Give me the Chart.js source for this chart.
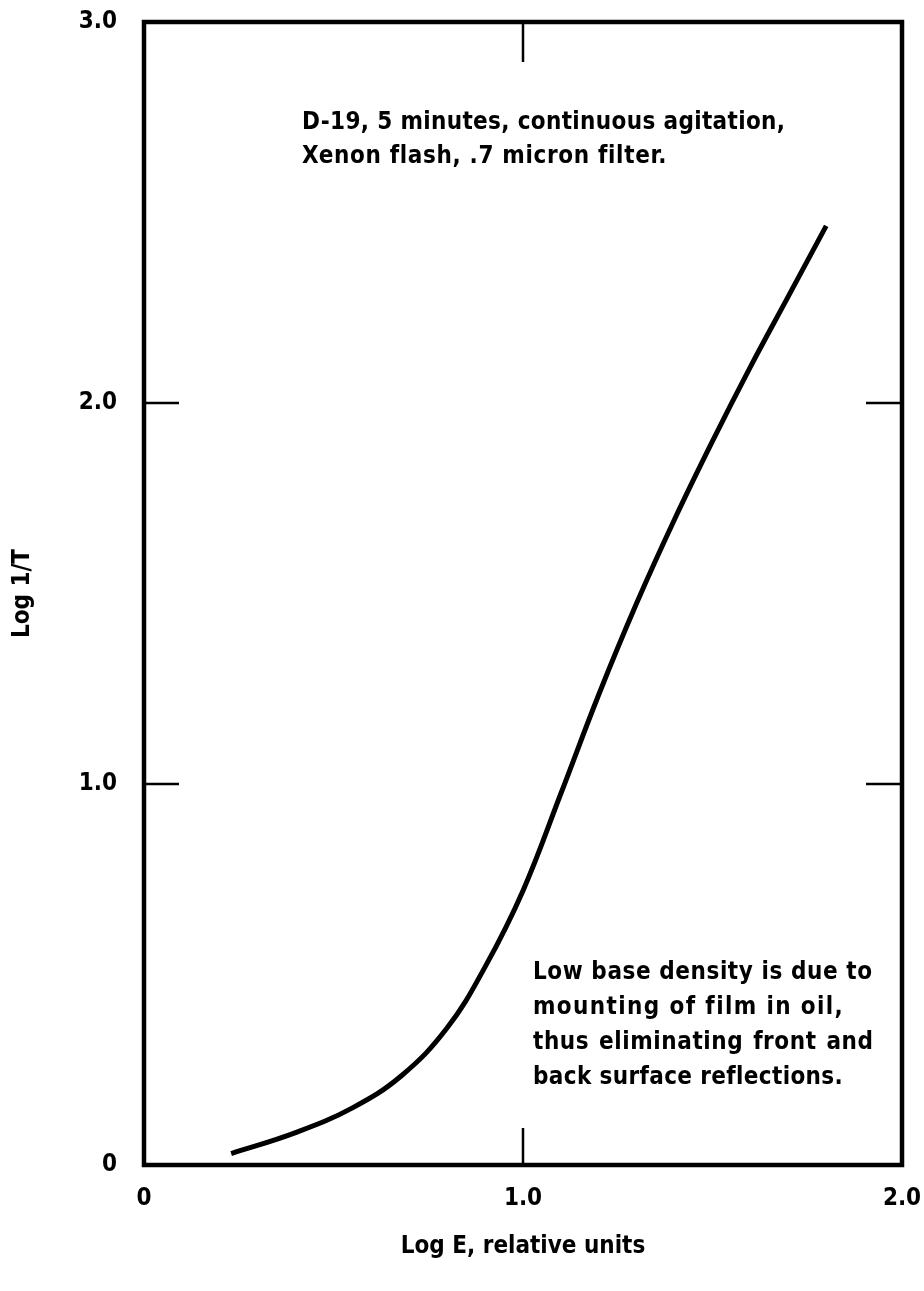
<!DOCTYPE html>
<html><head><meta charset="utf-8">
<script src="https://cdn.jsdelivr.net/npm/chart.js@4"></script>
<style>html,body{margin:0;padding:0;background:#fff;}#wrap{width:924px;height:1291px;position:relative;}</style>
</head><body><div id="wrap"><canvas id="c" width="924" height="1291"></canvas></div>
<script>
// ---- data ----
const logE     = [0.23, 0.40, 0.55, 0.68, 0.80, 0.90, 1.00, 1.10, 1.20, 1.30, 1.40, 1.50, 1.60, 1.70, 1.80];
const logInvT  = [0.03, 0.085, 0.15, 0.235, 0.36, 0.52, 0.72, 0.975, 1.235, 1.475, 1.695, 1.90, 2.095, 2.28, 2.465];
const xTickValues = [0, 1, 2];
const xTickLabels = ['0', '1.0', '2.0'];
const yTickValues = [0, 1, 2, 3];
const yTickLabels = ['0', '1.0', '2.0', '3.0'];
const xTitle = 'Log E, relative units';
const yTitle = 'Log 1/T';
const noteTop = ['D-19, 5 minutes, continuous agitation,', 'Xenon flash, .7 micron filter.'];
const noteBottom = ['Low base density is due to', 'mounting of film in oil,', 'thus eliminating front and', 'back surface reflections.'];

const FAM = "'DejaVu Sans Condensed', 'DejaVu Sans', sans-serif";

function drawNote(ctx, lines, x, y0, dy, widths, justify) {
  ctx.save();
  ctx.font = 'bold 24px ' + FAM;
  ctx.fillStyle = '#000';
  ctx.textBaseline = 'middle';
  ctx.textAlign = 'left';
  let baseLs = 0;
  lines.forEach((t, i) => {
    const y = y0 + i * dy;
    ctx.letterSpacing = '0px';
    const w0 = ctx.measureText(t).width;
    if (justify && justify.includes(i)) {
      ctx.letterSpacing = baseLs + 'px';
      const words = t.split(' ');
      const ww = words.map(w => ctx.measureText(w).width - baseLs);
      const sum = ww.reduce((a, b) => a + b, 0);
      const gap = (widths[i] - sum) / (words.length - 1);
      let cx = x;
      words.forEach((w, k) => { ctx.fillText(w, cx, y); cx += ww[k] + gap; });
    } else {
      const ls = (widths[i] - w0) / (t.length - 1);
      if (i === 0) baseLs = ls;
      ctx.letterSpacing = ls + 'px';
      ctx.fillText(t, x, y);
    }
  });
  ctx.restore();
}

const framePlugin = {
  id: 'frame',
  afterDatasetsDraw(chart) {
    const { ctx, chartArea: a, scales } = chart;
    ctx.save();
    ctx.strokeStyle = '#000';
    ctx.lineCap = 'butt';
    ctx.lineWidth = 2.5;
    xTickValues.forEach(v => {
      if (v === xTickValues[0] || v === xTickValues[xTickValues.length - 1]) return;
      const px = scales.x.getPixelForValue(v);
      ctx.beginPath();
      ctx.moveTo(px, a.bottom); ctx.lineTo(px, a.bottom - 37);
      ctx.moveTo(px, a.top); ctx.lineTo(px, a.top + 40);
      ctx.stroke();
    });
    yTickValues.forEach(v => {
      if (v === yTickValues[0] || v === yTickValues[yTickValues.length - 1]) return;
      const py = scales.y.getPixelForValue(v);
      ctx.beginPath();
      ctx.moveTo(a.left, py); ctx.lineTo(a.left + 35, py);
      ctx.moveTo(a.right, py); ctx.lineTo(a.right - 36, py);
      ctx.stroke();
    });
    ctx.lineWidth = 4.5;
    ctx.lineJoin = 'miter';
    ctx.strokeRect(a.left, a.top, a.right - a.left, a.bottom - a.top);
    ctx.restore();
    drawNote(ctx, noteTop, 302, 123, 34, [483, 363], null);
    drawNote(ctx, noteBottom, 533, 973, 35, [339, 309, 340, 309], [2]);
  }
};

new Chart(document.getElementById('c'), {
  type: 'scatter',
  data: {
    datasets: [{
      data: logE.map((x, i) => ({ x: x, y: logInvT[i] })),
      showLine: true,
      borderColor: '#000',
      borderWidth: 5,
      pointRadius: 0,
      fill: false,
      tension: 0.4,
      borderCapStyle: 'butt'
    }]
  },
  options: {
    responsive: false,
    animation: false,
    devicePixelRatio: 1,
    layout: { padding: { top: 22, right: 22, left: 0, bottom: 0 } },
    plugins: { legend: { display: false }, tooltip: { enabled: false } },
    scales: {
      x: {
        type: 'linear', min: 0, max: 2,
        afterBuildTicks: s => { s.ticks = xTickValues.map(v => ({ value: v })); },
        afterFit: s => { s.height = 126; s.paddingLeft = 0; s.paddingRight = 0; },
        grid: { display: false, drawTicks: false },
        border: { display: false },
        ticks: {
          color: '#000', padding: 19, maxRotation: 0,
          font: { family: FAM, size: 24, weight: 'bold' },
          callback: v => xTickLabels[xTickValues.indexOf(v)]
        },
        title: {
          display: true, text: xTitle, color: '#000',
          font: { family: FAM, size: 24, weight: 'bold' },
          padding: { top: 0, bottom: 30 }
        }
      },
      y: {
        type: 'linear', min: 0, max: 3,
        afterBuildTicks: s => { s.ticks = yTickValues.map(v => ({ value: v })); },
        afterFit: s => { s.width = 144; s.paddingTop = 0; s.paddingBottom = 0; },
        grid: { display: false, drawTicks: false },
        border: { display: false },
        ticks: {
          color: '#000', padding: 27,
          font: { family: FAM, size: 24, weight: 'bold' },
          callback: v => yTickLabels[yTickValues.indexOf(v)]
        },
        title: {
          display: true, text: yTitle, color: '#000',
          font: { family: FAM, size: 24, weight: 'bold' },
          padding: { top: 8, bottom: 0 }
        }
      }
    }
  },
  plugins: [framePlugin]
});
</script></body></html>
